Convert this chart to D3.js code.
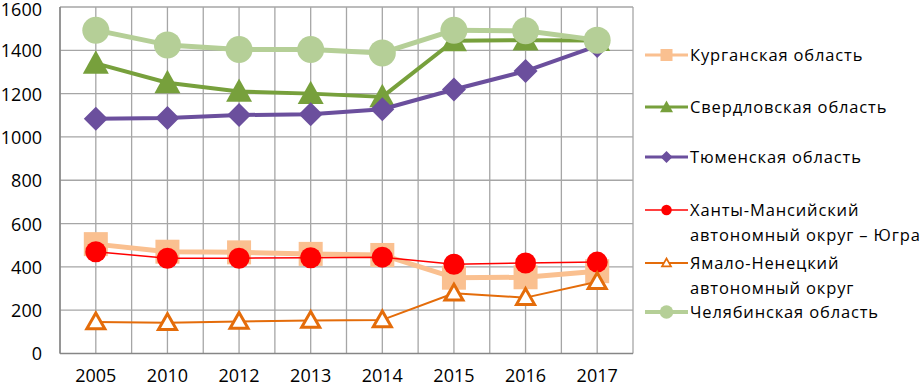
<!DOCTYPE html>
<html><head><meta charset="utf-8">
<script src="https://cdn.jsdelivr.net/npm/d3@7"></script>
<style>body{margin:0;background:#fff}svg{display:block}text{font-family:"Open Sans",Lato,sans-serif;fill:#000}</style>
</head><body><svg id="c" width="920" height="387"></svg>
<script>
const years = ["2005","2010","2012","2013","2014","2015","2016","2017"];
const yTicks = [0,200,400,600,800,1000,1200,1400,1600];
const names = ["Курганская область","Свердловская область","Тюменская область","Ханты-Мансийский автономный округ – Югра","Ямало-Ненецкий автономный округ","Челябинская область"];
const kurgan = [505,470,467,460,455,350,352,380];
const sverdl = [1340,1250,1210,1200,1185,1444,1447,1445];
const tyumen = [1084,1088,1101,1105,1128,1219,1304,1420];
const khanty = [470,440,440,442,445,412,418,422];
const yamal = [145,142,148,152,155,278,258,331];
const chelyab = [1493,1425,1404,1404,1388,1493,1490,1447];

const seriesData=[kurgan,sverdl,tyumen,khanty,yamal,chelyab];
const styles=[
 {color:"#fac090",w:5,lw:3,marker:"square",size:24},
 {color:"#77a03c",w:4,lw:3,marker:"triangle",size:26},
 {color:"#6b4f9d",w:4,lw:3,marker:"diamond",size:24},
 {color:"#ff0000",w:1.5,lw:1.5,marker:"circle",size:21},
 {color:"#e46c0a",w:2,lw:2,marker:"hollowtri",size:18},
 {color:"#b5cf97",w:5,lw:4,marker:"circle",size:27}
];
const svg=d3.select("#c");
const x=d3.scaleBand().domain(years).range([60,633]);
const y=d3.scaleLinear().domain([0,1600]).range([353.5,7]);
const g=svg.append("g");
// grid
yTicks.forEach(t=>{ if(t>0) g.append("line").attr("x1",60).attr("x2",633).attr("y1",y(t)).attr("y2",y(t)).attr("stroke","#a6a6a6").attr("stroke-width",1.3);});
const vlines=[];
years.forEach((yr,i)=>{vlines.push(x(yr)); vlines.push(x(yr)+x.bandwidth()/2);});
vlines.push(633);
vlines.forEach(v=>g.append("line").attr("x1",v).attr("x2",v).attr("y1",y(1600)).attr("y2",y(0)).attr("stroke","#a6a6a6").attr("stroke-width",1.3));
g.append("line").attr("x1",60).attr("x2",633).attr("y1",y(0)).attr("y2",y(0)).attr("stroke","#868686").attr("stroke-width",1.5);
g.append("line").attr("x1",60).attr("x2",60).attr("y1",y(1600)).attr("y2",y(0)).attr("stroke","#868686").attr("stroke-width",1.5);
// axes labels
const yAxis=d3.axisLeft(y).tickValues(yTicks).tickSize(0).tickPadding(0).tickFormat(d3.format("d"));
const ya=svg.append("g").attr("transform","translate(42,0)").call(yAxis);
ya.select(".domain").remove();
ya.selectAll("text").style("font-size","18px").attr("dy","0.36em").attr("fill","#000");
ya.selectAll(".tick").filter(d=>d===1600).select("text").attr("dy","0.45em");
const xAxis=d3.axisBottom(x).tickSize(0).tickPadding(0);
const xa=svg.append("g").attr("transform","translate(0,386)").call(xAxis);
xa.select(".domain").remove();
xa.selectAll("text").style("font-size","18px").attr("dy","-0.2em").attr("fill","#000");

function drawMarker(sel,st,cx,cy,scale){
  const s=st.size*scale;
  if(st.marker==="circle"){sel.append("circle").attr("cx",cx).attr("cy",cy).attr("r",s/2).attr("fill",st.color);}
  else if(st.marker==="square"){sel.append("rect").attr("x",cx-s/2).attr("y",cy-s/2).attr("width",s).attr("height",s).attr("fill",st.color);}
  else if(st.marker==="diamond"){const h=s/2;sel.append("path").attr("d",`M${cx},${cy-h}L${cx+h},${cy}L${cx},${cy+h}L${cx-h},${cy}Z`).attr("fill",st.color);}
  else if(st.marker==="triangle"){const h=s/2;sel.append("path").attr("d",`M${cx},${cy-h}L${cx+h},${cy+h*0.8}L${cx-h},${cy+h*0.8}Z`).attr("fill",st.color);}
  else if(st.marker==="hollowtri"){const h=s/2;sel.append("path").attr("d",`M${cx},${cy-h}L${cx+h},${cy+h*0.75}L${cx-h},${cy+h*0.75}Z`).attr("fill","#fff").attr("stroke",st.color).attr("stroke-width",2.6*scale+0.4);}
}
const line=d3.line().x((d,i)=>x(years[i])+x.bandwidth()/2).y(d=>y(d));
seriesData.forEach((data,k)=>{
  const st=styles[k];
  const sg=svg.append("g");
  sg.append("path").attr("d",line(data)).attr("fill","none").attr("stroke",st.color).attr("stroke-width",st.w).attr("stroke-linejoin","round");
  data.forEach((d,i)=>drawMarker(sg,st,x(years[i])+x.bandwidth()/2,y(d),1));
});
// legend
const leg=[{lines:[names[0]],y:55},{lines:[names[1]],y:107},{lines:[names[2]],y:157},
 {lines:["Ханты-Мансийский","автономный округ – Югра"],y:210},{lines:["Ямало-Ненецкий","автономный округ"],y:263},{lines:[names[5]],y:312}];
leg.forEach((L,k)=>{
  const st=styles[k];
  const lg=svg.append("g");
  lg.append("line").attr("x1",645).attr("x2",688).attr("y1",L.y).attr("y2",L.y).attr("stroke",st.color).attr("stroke-width",st.lw);
  drawMarker(lg,st,666.5,L.y,0.5);
  L.lines.forEach((t,j)=>lg.append("text").attr("x",690).attr("y",L.y+j*25.5).attr("dy","0.36em").style("font-size","16.5px").style("letter-spacing","0.85px").text(t));
});
</script></body></html>
